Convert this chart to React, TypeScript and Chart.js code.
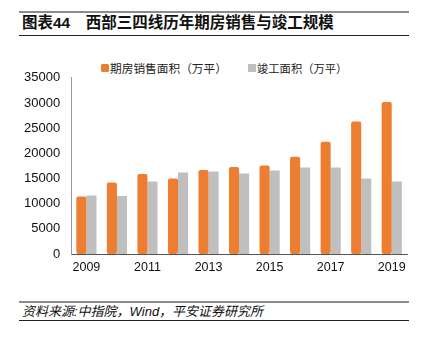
import React, { useEffect, useRef } from "react";
import { Chart, registerables } from "chart.js";

Chart.register(...registerables);

const years = ["2009", "2010", "2011", "2012", "2013", "2014", "2015", "2016", "2017", "2018", "2019"];
const salesArea = [11400, 14200, 15900, 15000, 16700, 17300, 17600, 19300, 22300, 26300, 30200];
const completedArea = [11600, 11500, 14400, 16200, 16400, 16000, 16600, 17200, 17200, 15000, 14400];
const seriesNames = ["期房销售面积（万平）", "竣工面积（万平）"];
const seriesColors = ["#ED7D31", "#BFBFBF"];
const titleText = "图表44　西部三四线历年期房销售与竣工规模";
const sourceText = "资料来源:中指院，Wind，平安证券研究所";

const FONT = "'Liberation Sans', Arial, 'Noto Sans CJK SC', sans-serif";

export default function App() {
  const ref = useRef<HTMLCanvasElement | null>(null);

  useEffect(() => {
    document.body.style.margin = "0";
    const ctx = ref.current!;
    const chart = new Chart(ctx, {
      type: "bar",
      data: {
        labels: years,
        datasets: [
          {
            label: seriesNames[0],
            data: salesArea,
            backgroundColor: seriesColors[0],
            borderRadius: 2,
            borderSkipped: false,
            categoryPercentage: 0.66,
            barPercentage: 1.0,
          },
          {
            label: seriesNames[1],
            data: completedArea,
            backgroundColor: seriesColors[1],
            categoryPercentage: 0.66,
            barPercentage: 1.0,
          },
        ],
      },
      options: {
        animation: false,
        responsive: false,
        maintainAspectRatio: false,
        layout: { padding: { left: 13, right: 14, top: 0, bottom: 6 } },
        plugins: {
          legend: { display: false },
          tooltip: { enabled: false },
        },
        scales: {
          x: {
            grid: { display: false, drawTicks: false },
            border: { display: true, color: "#555", width: 1 },
            ticks: {
              autoSkip: false,
              maxRotation: 0,
              color: "#111",
              padding: 6,
              font: { size: 12.5, family: FONT },
              callback: (_v: any, i: number) => (i % 2 === 0 ? years[i] : ""),
            },
          },
          y: {
            min: 0,
            max: 35000,
            grid: { display: false, drawTicks: false },
            border: { display: true, color: "#999", width: 1 },
            ticks: {
              stepSize: 5000,
              color: "#111",
              padding: 11,
              font: { size: 13, family: FONT },
              callback: (v: any) => String(v),
            },
          },
        },
      },
    });
    return () => chart.destroy();
  }, []);

  const legendItem = (i: number, left: number, size: number) => (
    <div
      key={i}
      style={{
        position: "absolute",
        left,
        top: 59,
        height: 17,
        display: "flex",
        alignItems: "center",
        fontSize: size,
        color: "#222",
        whiteSpace: "pre",
      }}
    >
      <span style={{ display: "inline-block", width: 8, height: 8, background: seriesColors[i], marginRight: 1, borderRadius: i === 0 ? 1.5 : 0 }} />
      {seriesNames[i]}
    </div>
  );

  return (
    <div style={{ position: "relative", width: 421, height: 337, background: "#fff", fontFamily: FONT }}>
      <div style={{ position: "absolute", left: 19, top: 11, width: 390, height: 2, background: "#8c8c8c" }} />
      <div
        style={{
          position: "absolute",
          left: 22,
          top: 11,
          height: 24,
          lineHeight: "24px",
          fontSize: 15.5,
          fontWeight: "bold",
          color: "#111",
          whiteSpace: "pre",
        }}
      >
        {titleText}
      </div>
      <div style={{ position: "absolute", left: 19, top: 35, width: 390, height: 1, background: "#222" }} />
      {legendItem(0, 101, 11.7)}
      {legendItem(1, 248, 11.3)}
      <canvas ref={ref} width={421} height={228} style={{ position: "absolute", left: 0, top: 59, width: 421, height: 228 }} />
      <div style={{ position: "absolute", left: 19, top: 301, width: 390, height: 2, background: "#8c8c8c" }} />
      <div
        style={{
          position: "absolute",
          left: 22,
          top: 303,
          height: 17,
          lineHeight: "17px",
          fontSize: 13,
          fontStyle: "italic",
          color: "#111",
          whiteSpace: "pre",
        }}
      >
        {sourceText}
      </div>
      <div style={{ position: "absolute", left: 19, top: 320, width: 390, height: 1, background: "#222" }} />
    </div>
  );
}
